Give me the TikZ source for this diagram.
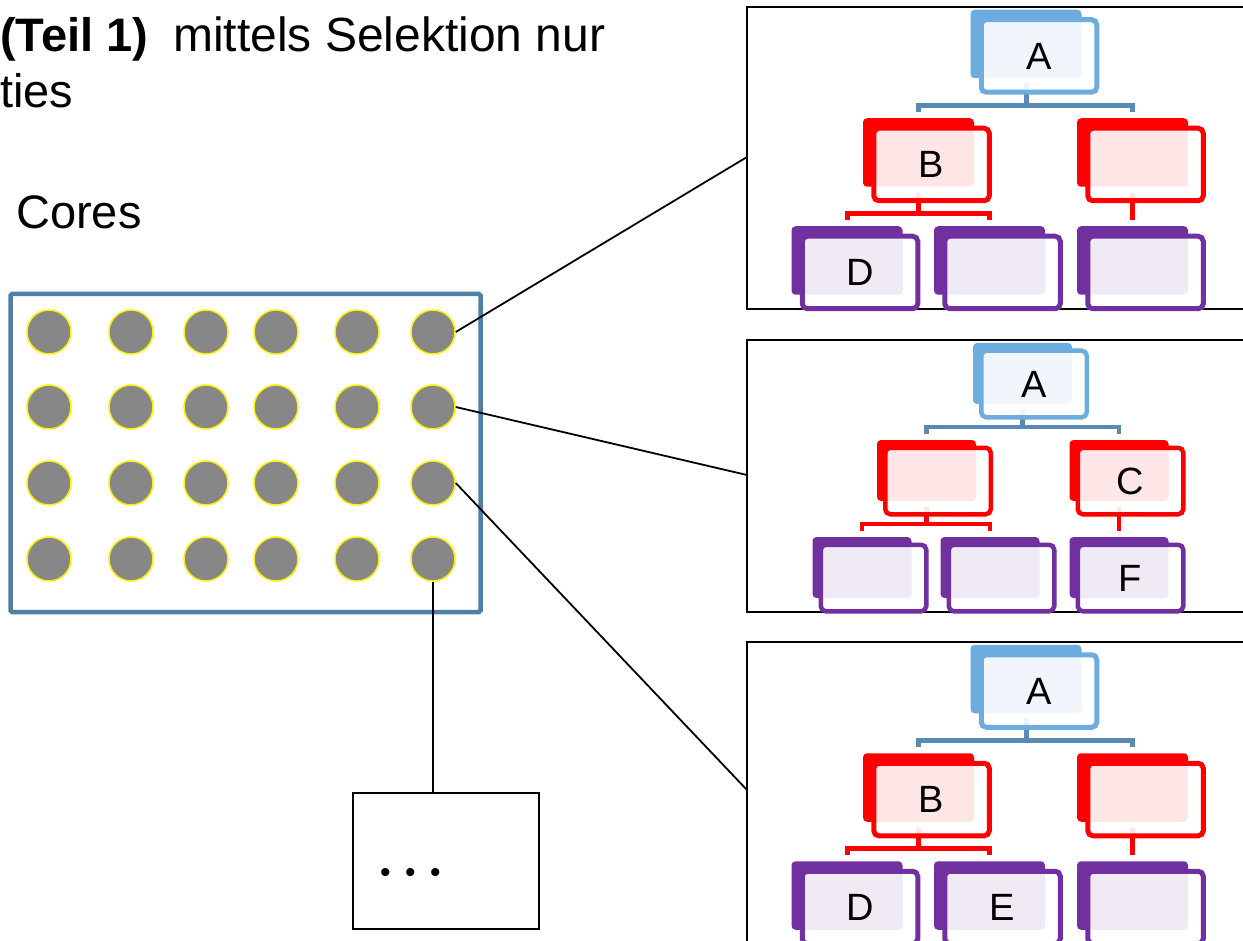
\documentclass[tikz,border=0pt]{standalone}
\usepackage{fontspec}
\setmainfont{Liberation Sans}
\usetikzlibrary{backgrounds,calc}

\definecolor{lvlblue}{RGB}{108,172,222}
\definecolor{linkblue}{RGB}{88,138,180}
\definecolor{lvlred}{RGB}{255,0,0}
\definecolor{lvlpurple}{RGB}{112,48,160}
\definecolor{corefill}{RGB}{135,135,135}
\definecolor{coreedge}{RGB}{255,240,0}
\definecolor{chipedge}{RGB}{80,127,166}

\tikzset{
  txt/.style={inner sep=0pt, anchor=base west, font=\fontsize{47}{56}\selectfont},
  % large hierarchy boxes
  frontL/.style={rectangle, rounded corners=5pt, line width=5pt, fill=white,
    fill opacity=0.9, draw opacity=1, text opacity=1, inner sep=0pt,
    minimum width=115.5pt, minimum height=72.5pt,
    font=\fontsize{38}{38}\selectfont},
  backL/.style={rectangle, rounded corners=4pt, inner sep=0pt,
    minimum width=111pt, minimum height=68.5pt},
  linkL/.style={line width=5pt},
  % compact hierarchy boxes
  frontS/.style={rectangle, rounded corners=5pt, line width=4.5pt, fill=white,
    fill opacity=0.9, draw opacity=1, text opacity=1, inner sep=0pt,
    minimum width=105.5pt, minimum height=66.5pt,
    font=\fontsize{38}{38}\selectfont},
  backS/.style={rectangle, rounded corners=4pt, inner sep=0pt,
    minimum width=99pt, minimum height=61pt},
  linkS/.style={line width=4.5pt},
  panel/.style={line width=1.8pt, draw=black},
  core/.style={circle, minimum size=44pt, inner sep=0pt, fill=corefill,
    draw=coreedge, line width=1.5pt},
  chip/.style={rectangle, draw=chipedge, line width=4.5pt, rounded corners=1.5pt,
    minimum width=470pt, minimum height=318pt, inner sep=0pt},
  wire/.style={line width=1.8pt, draw=black},
}

% hierarchy box: name, x, y, colour, label, size (L/S), back offset x, back offset y
\newcommand\orgbox[8]{%
  \node[back#6, fill=#4] (b#1) at (#2+#7, #3+#8) {};
  \node[front#6, draw=#4] (#1) at (#2, #3) {#5};
}

\begin{document}
\begin{tikzpicture}[x=1pt, y=-1pt]
\useasboundingbox (0,0) rectangle (1243,941);
\clip (0,0) rectangle (1243,941);

% heading and caption
\node[txt] (title) at (0,52) {\textbf{(Teil 1)}\hspace{25pt}{\fontsize{48}{56}\selectfont mittels Selektion nur}};
\node[txt] (title2) at (0,108) {ties};
\node[txt] (cores) at (16,229) {Cores};

% the chip with its 4 x 6 cores
\node[chip] (chip) at (245.5,453) {};
\foreach \r/\y in {1/332,2/407,3/483,4/559}{
  \foreach \c/\x in {1/49,2/131,3/206,4/276,5/357,6/433}{
    \node[core] (c-\r-\c) at (\x,\y) {};
  }
}

% further processes
\node[rectangle, draw=black, line width=2pt, minimum width=186pt,
      minimum height=136pt, inner sep=0pt] (more) at (446,861) {};
\node[inner sep=0pt, anchor=base west, font=\fontsize{30}{36}\selectfont]
      (dots) at (380,882) {•\hspace{14.5pt}•\hspace{14.5pt}•};

% panel entry points
\coordinate (in1) at (747,157);
\coordinate (in2) at (747,475);
\coordinate (in3) at (747,790);

% panel 1: A -> B -> D
\orgbox{A1}{1039}{56}{lvlblue}{A}{L}{-13}{-12}
\orgbox{B1}{931.5}{164.5}{lvlred}{B}{L}{-13}{-12}
\orgbox{R1}{1145.5}{164.5}{lvlred}{}{L}{-13}{-12}
\orgbox{D1}{860}{272.5}{lvlpurple}{D}{L}{-13}{-12}
\orgbox{E1}{1002.5}{272.5}{lvlpurple}{}{L}{-13}{-12}
\orgbox{G1}{1145.5}{272.5}{lvlpurple}{}{L}{-13}{-12}

% panel 2: A -> C -> F
\orgbox{A2}{1034}{384}{lvlblue}{A}{S}{-11.5}{-10.5}
\orgbox{B2}{938}{481}{lvlred}{}{S}{-11.5}{-10.5}
\orgbox{C2}{1130.5}{481}{lvlred}{C}{S}{-11.5}{-10.5}
\orgbox{D2}{873.5}{578}{lvlpurple}{}{S}{-11.5}{-10.5}
\orgbox{E2}{1001.5}{578}{lvlpurple}{}{S}{-11.5}{-10.5}
\orgbox{F2}{1130.5}{578}{lvlpurple}{F}{S}{-11.5}{-10.5}

% panel 3: A -> B -> D, E
\orgbox{A3}{1039}{691}{lvlblue}{A}{L}{-13}{-12}
\orgbox{B3}{931.5}{799.5}{lvlred}{B}{L}{-13}{-12}
\orgbox{R3}{1145.5}{799.5}{lvlred}{}{L}{-13}{-12}
\orgbox{D3}{860}{907.5}{lvlpurple}{D}{L}{-13}{-12}
\orgbox{E3}{1002.5}{907.5}{lvlpurple}{E}{L}{-13}{-12}
\orgbox{G3}{1145.5}{907.5}{lvlpurple}{}{L}{-13}{-12}

\begin{scope}[on background layer]
  % panel frames (open to the right)
  \draw[panel] (747,7) rectangle (1300,309);
  \draw[panel] (747,340) rectangle (1300,612);
  \draw[panel] (747,642) rectangle (1300,1000);

  % hierarchy connectors
  \foreach \p/\lw in {1/L,3/L}{
    \draw[link\lw, linkblue] ($(bA\p.south)+(0,5)$) -- ($(bA\p.south |- bB\p.north)+(0,-13)$);
    \draw[link\lw, linkblue] ($(bB\p.north)+(0,-6)$) |- ($(bR\p.north)+(0,-13)$) -- ($(bR\p.north)+(0,-6)$);
    \draw[link\lw, lvlred] ($(bB\p.south)+(0,6)$) -- ($(bB\p.south |- bD\p.north)+(0,-13)$);
    \draw[link\lw, lvlred] ($(bD\p.north)+(0,-6)$) |- ($(bE\p.north)+(0,-13)$) -- ($(bE\p.north)+(0,-6)$);
    \draw[link\lw, lvlred] ($(bR\p.south)+(0,6)$) -- ($(bG\p.north)+(0,-6)$);
  }
  \draw[linkS, linkblue] ($(bA2.south)+(0,6)$) -- ($(bA2.south |- bB2.north)+(0,-13)$);
  \draw[linkS, linkblue] ($(bB2.north)+(0,-6)$) |- ($(bC2.north)+(0,-13)$) -- ($(bC2.north)+(0,-6)$);
  \draw[linkS, lvlred] ($(bB2.south)+(0,6)$) -- ($(bB2.south |- bD2.north)+(0,-13)$);
  \draw[linkS, lvlred] ($(bD2.north)+(0,-6)$) |- ($(bE2.north)+(0,-13)$) -- ($(bE2.north)+(0,-6)$);
  \draw[linkS, lvlred] ($(bC2.south)+(0,6)$) -- ($(bF2.north)+(0,-6)$);
\end{scope}

% wires from the cores
\draw[wire] (c-1-6.east) -- (in1);
\draw[wire] (c-2-6.east) -- (in2);
\draw[wire] (c-3-6.east) -- (in3);
\draw[wire] (c-4-6.south) -- (c-4-6.south |- more.north);
\end{tikzpicture}
\end{document}
